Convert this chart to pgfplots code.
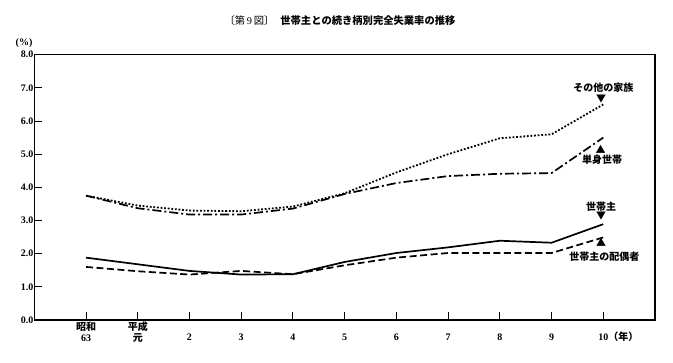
\documentclass[border=0pt]{standalone}
\usepackage{pgfplots}
\pgfplotsset{compat=1.18}
\usepackage{fontspec}
\setmainfont{Liberation Serif}
\newfontfamily\jp{Noto Sans CJK JP}
\begin{document}
\begin{tikzpicture}[x=1pt,y=1pt]
\useasboundingbox (0,0) rectangle (673,363);
\node[font=\fontsize{10.3}{12}\selectfont] at (340,342) {{\jp 〔第}\,9\,{\jp 図〕}\hspace{6pt}{\jp\bfseries 世帯主との続き柄別完全失業率の推移}};
\node[font=\fontsize{10}{12}\selectfont\bfseries] at (24,320) {(\%)};
\begin{axis}[
  at={(34.3pt,43pt)}, anchor=south west,
  scale only axis, width=620.7pt, height=265.3pt,
  xmin=-1, xmax=11, ymin=0, ymax=8,
  axis line style={line width=1.2pt},
  xtick={0,...,10}, ytick={0,...,8},
  tick align=inside, major tick length=8pt,
  xtick pos=bottom, ytick pos=left,
  tick style={line width=0.9pt, black},
  /pgf/number format/.cd, fixed, fixed zerofill, precision=1, assume math mode=true,
  /pgfplots/.cd,
  yticklabel style={font=\fontsize{10}{10}\selectfont\bfseries, inner sep=0.8pt},
  xticklabel style={font=\fontsize{10}{10.5}\selectfont\bfseries, align=center, inner sep=2pt},
  xticklabels={{{\jp\bfseries 昭和}\\63},{{\jp\bfseries 平成}\\{\jp\bfseries 元}},{\vphantom{\jp 昭}\\2},{\vphantom{\jp 昭}\\3},{\vphantom{\jp 昭}\\4},{\vphantom{\jp 昭}\\5},{\vphantom{\jp 昭}\\6},{\vphantom{\jp 昭}\\7},{\vphantom{\jp 昭}\\8},{\vphantom{\jp 昭}\\9},{\vphantom{\jp 昭}\\10\rlap{\jp（年）}}},
  clip=false,
]
% 世帯主 (solid)
\addplot[black, line width=1.7pt] coordinates {
(0,1.88) (1,1.68) (2,1.48) (3,1.37) (4,1.38) (5,1.75) (6,2.02) (7,2.19) (8,2.39) (9,2.33) (10,2.89)};
% 世帯主の配偶者 (dashed)
\addplot[black, line width=1.7pt, dash pattern=on 7pt off 3.5pt] coordinates {
(0,1.60) (1,1.47) (2,1.37) (3,1.48) (4,1.38) (5,1.65) (6,1.88) (7,2.02) (8,2.02) (9,2.02) (10,2.49)};
% その他の家族 (dotted)
\addplot[black, line width=1.8pt, dash pattern=on 1.8pt off 1.8pt] coordinates {
(0,3.75) (1,3.45) (2,3.30) (3,3.28) (4,3.42) (5,3.82) (6,4.45) (7,5.00) (8,5.48) (9,5.60) (10,6.50)};
% 単身世帯 (dash-dot)
\addplot[black, line width=1.7pt, dash pattern=on 9pt off 3pt on 2pt off 3pt] coordinates {
(0,3.75) (1,3.37) (2,3.18) (3,3.18) (4,3.36) (5,3.80) (6,4.13) (7,4.34) (8,4.41) (9,4.43) (10,5.50)};
% annotations
\node[font=\fontsize{10}{12}\selectfont\jp\bfseries] at (axis cs:10.0,7.0) {その他の家族};
\node[font=\fontsize{10}{12}\selectfont\jp] at (axis cs:9.96,6.65) {▼};
\node[font=\fontsize{10}{12}\selectfont\jp] at (axis cs:9.95,5.16) {▲};
\node[font=\fontsize{10}{12}\selectfont\jp\bfseries] at (axis cs:9.98,4.82) {単身世帯};
\node[font=\fontsize{10}{12}\selectfont\jp\bfseries] at (axis cs:9.96,3.42) {世帯主};
\node[font=\fontsize{10}{12}\selectfont\jp] at (axis cs:9.96,3.14) {▼};
\node[font=\fontsize{10}{12}\selectfont\jp] at (axis cs:9.96,2.33) {▲};
\node[font=\fontsize{10}{12}\selectfont\jp\bfseries] at (axis cs:10.02,1.91) {世帯主の配偶者};
\end{axis}
\end{tikzpicture}
\end{document}
